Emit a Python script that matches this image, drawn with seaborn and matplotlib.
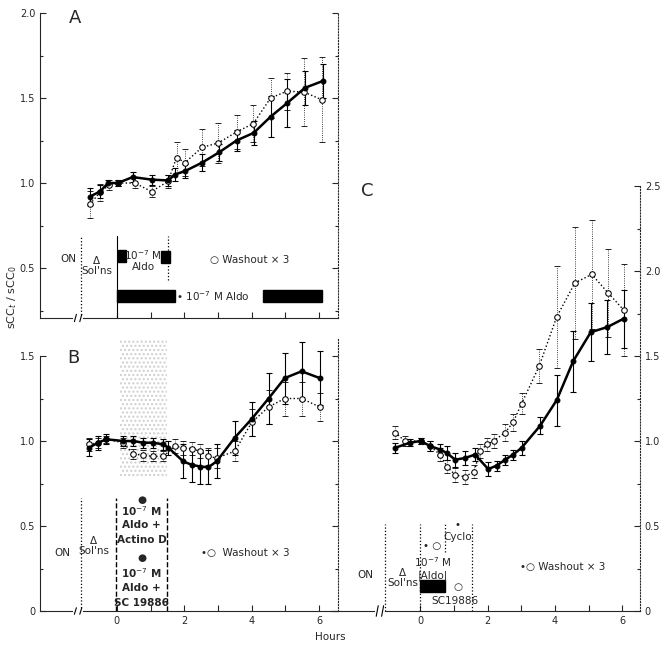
import matplotlib
matplotlib.use('Agg')
import matplotlib.pyplot as plt
from matplotlib.patches import Rectangle
import pandas as pd
import seaborn as sns

sns.set_style('ticks')
plt.rcParams['font.family'] = ['DejaVu Sans']

# ---- Panel A : 10-7 M Aldo continuous (filled) vs washout x3 (open)
a_h_solid = [-0.8, -0.5, -0.26, 0.03, 0.47, 1.03, 1.52, 1.72, 2.02, 2.53, 3.03, 3.55, 4.06, 4.56, 5.05, 5.58, 6.11]
a_solid   = [0.92, 0.95, 1.0, 1.0, 1.035, 1.02, 1.015, 1.05, 1.07, 1.12, 1.18, 1.25, 1.295, 1.39, 1.47, 1.56, 1.6]
a_solid_e = [0.05, 0.04, 0.02, 0.02, 0.03, 0.03, 0.03, 0.04, 0.04, 0.05, 0.05, 0.06, 0.07, 0.12, 0.14, 0.1, 0.1]
a_h_open  = [-0.8, -0.5, -0.22, 0.03, 0.53, 1.03, 1.52, 1.77, 2.02, 2.53, 3.0, 3.55, 4.05, 4.56, 5.05, 5.55, 6.08]
a_open    = [0.875, 0.945, 0.99, 1.0, 1.0, 0.95, 1.01, 1.15, 1.12, 1.21, 1.235, 1.3, 1.35, 1.5, 1.54, 1.535, 1.49]
a_open_e  = [0.08, 0.05, 0.03, 0.02, 0.03, 0.03, 0.04, 0.09, 0.08, 0.11, 0.12, 0.1, 0.11, 0.12, 0.11, 0.2, 0.25]

# ---- Panel B : Aldo + Actino D (open) / Aldo + SC 19886 (filled)
b_h_solid = [-0.83, -0.56, -0.31, 0.19, 0.48, 0.78, 1.08, 1.38, 1.53, 1.97, 2.22, 2.47, 2.71, 2.96, 3.5, 4.0, 4.5, 4.98, 5.48, 6.02]
b_solid   = [0.96, 0.99, 1.01, 1.0, 1.0, 0.99, 0.99, 0.98, 0.96, 0.88, 0.86, 0.85, 0.845, 0.88, 1.02, 1.13, 1.25, 1.37, 1.41, 1.37]
b_solid_e = [0.05, 0.04, 0.03, 0.03, 0.03, 0.03, 0.03, 0.03, 0.04, 0.1, 0.1, 0.1, 0.1, 0.1, 0.1, 0.1, 0.15, 0.15, 0.17, 0.16]
b_h_open  = [-0.83, -0.56, -0.31, 0.19, 0.48, 0.78, 1.08, 1.38, 1.72, 1.97, 2.22, 2.47, 2.71, 2.96, 3.5, 4.0, 4.5, 4.98, 5.48, 6.02]
b_open    = [0.98, 0.99, 1.01, 0.99, 0.925, 0.915, 0.91, 0.91, 0.97, 0.96, 0.955, 0.94, 0.91, 0.9, 0.94, 1.11, 1.2, 1.25, 1.25, 1.2]
b_open_e  = [0.04, 0.03, 0.02, 0.03, 0.03, 0.03, 0.03, 0.03, 0.04, 0.04, 0.04, 0.04, 0.05, 0.06, 0.06, 0.08, 0.1, 0.1, 0.1, 0.08]

# ---- Panel C : Aldo then Cyclo (filled) / SC19886 (open)
c_h_solid = [-0.74, -0.3, 0.02, 0.3, 0.59, 0.79, 1.04, 1.33, 1.63, 2.02, 2.27, 2.52, 2.76, 3.01, 3.56, 4.05, 4.54, 5.06, 5.55, 6.04]
c_solid   = [0.96, 0.99, 1.0, 0.97, 0.95, 0.93, 0.89, 0.9, 0.92, 0.835, 0.855, 0.89, 0.92, 0.96, 1.09, 1.24, 1.47, 1.64, 1.67, 1.72]
c_solid_e = [0.03, 0.02, 0.02, 0.03, 0.03, 0.04, 0.04, 0.04, 0.04, 0.04, 0.03, 0.03, 0.03, 0.04, 0.05, 0.15, 0.18, 0.17, 0.16, 0.17]
c_h_open  = [-0.74, -0.45, 0.02, 0.3, 0.59, 0.8, 1.04, 1.33, 1.6, 1.78, 1.98, 2.18, 2.52, 2.76, 3.01, 3.53, 4.05, 4.59, 5.09, 5.58, 6.04]
c_open    = [1.05, 1.0, 1.0, 0.97, 0.92, 0.85, 0.8, 0.79, 0.82, 0.94, 0.98, 1.0, 1.05, 1.11, 1.22, 1.44, 1.73, 1.93, 1.98, 1.87, 1.77]
c_open_e  = [0.04, 0.03, 0.02, 0.03, 0.04, 0.04, 0.04, 0.04, 0.04, 0.04, 0.04, 0.04, 0.05, 0.05, 0.06, 0.1, 0.3, 0.33, 0.32, 0.26, 0.27]


def draw_pair(ax, hs, vs, es, ho, vo, eo):
    # open series, dotted line + dotted error bars
    eb = ax.errorbar(ho, vo, yerr=eo, fmt='none', ecolor='k', elinewidth=0.6, capsize=2, capthick=0.6)
    eb[2][0].set_linestyle(':')
    df_o = pd.DataFrame({'h': ho, 'v': vo})
    sns.lineplot(data=df_o, x='h', y='v', ax=ax, color='k', lw=1.0, linestyle=':', sort=False,
                 marker='o', markersize=4, markerfacecolor='white', markeredgecolor='k', zorder=3)
    # filled series, heavy line
    ax.errorbar(hs, vs, yerr=es, fmt='none', ecolor='k', elinewidth=0.8, capsize=2, capthick=0.8)
    df_s = pd.DataFrame({'h': hs, 'v': vs})
    sns.lineplot(data=df_s, x='h', y='v', ax=ax, color='k', lw=1.8, sort=False,
                 marker='o', markersize=3.5, markerfacecolor='k', markeredgecolor='k', zorder=4)
    ax.set_xlabel('')
    ax.set_ylabel('')


def axis_break(ax, xb):
    tr = ax.get_xaxis_transform()
    ax.plot([xb - 0.08, xb + 0.08], [0, 0], color='white', lw=3, transform=tr, clip_on=False, zorder=5)
    for dx in (-0.08, 0.08):
        ax.plot([xb + dx - 0.03, xb + dx + 0.03], [-0.012, 0.012], color='k', lw=0.8,
                transform=tr, clip_on=False, zorder=6)


def vline(ax, x, y0, y1, ls=':', lw=0.9):
    ax.plot([x, x], [y0, y1], color='k', ls=ls, lw=lw)


fig = plt.figure(figsize=(6.61, 6.47), dpi=100)
W, H = 661, 647


def px_axes(l, r, t, b):
    return fig.add_axes([l / W, (H - b) / H, (r - l) / W, (b - t) / H])


fs = 7.5
tick_kw = dict(direction='in', length=4, width=0.8, labelsize=7)

# ================= A =================
axA = px_axes(40, 338, 13, 318)
draw_pair(axA, a_h_solid, a_solid, a_solid_e, a_h_open, a_open, a_open_e)
axA.set_xlim(-2.28, 6.56)
axA.set_ylim(0.206, 2.0)
axA.set_yticks([0.5, 1.0, 1.5, 2.0])
axA.set_yticklabels(['0.5', '1.0', '1.5', '2.0'])
axA.set_yticks([0.25, 0.75, 1.25, 1.75], minor=True)
axA.set_xticks(range(0, 7))
axA.set_xticklabels([])
axA.tick_params(which='both', right=True, **tick_kw)
axA.tick_params(which='minor', length=2.5)
axA.spines['top'].set_visible(False)
axA.spines['right'].set_linestyle(':')
axis_break(axA, -1.15)
axA.text(-1.25, 1.97, 'A', fontsize=13, ha='center', va='center')

vline(axA, -1.05, 0.206, 0.69)
vline(axA, 0.0, 0.206, 0.69, ls='-', lw=0.8)
vline(axA, 1.52, 0.43, 0.69)
axA.text(-1.45, 0.555, 'ON', fontsize=fs, ha='center', va='center')
axA.text(-0.6, 0.51, 'Δ\nSol\'ns', fontsize=fs, ha='center', va='center', linespacing=1.0)
axA.add_patch(Rectangle((0.03, 0.535), 0.25, 0.07, color='k'))
axA.add_patch(Rectangle((1.3, 0.53), 0.27, 0.07, color='k'))
axA.text(0.78, 0.545, '10$^{-7}$ M\nAldo', fontsize=fs, ha='center', va='center', linespacing=1.0)
axA.text(2.76, 0.55, '○ Washout × 3', fontsize=fs, ha='left', va='center')
axA.add_patch(Rectangle((0.0, 0.30), 1.72, 0.07, color='k'))
axA.add_patch(Rectangle((4.33, 0.30), 1.75, 0.07, color='k'))
axA.text(1.76, 0.335, '• 10$^{-7}$ M Aldo', fontsize=fs, ha='left', va='center')

# ================= B =================
axB = px_axes(40, 338, 339, 611)
axB.add_patch(Rectangle((0.1, 0.78), 1.4, 0.82, facecolor='none', edgecolor='#cfcfcf',
                        hatch='....', lw=0, zorder=0))
draw_pair(axB, b_h_solid, b_solid, b_solid_e, b_h_open, b_open, b_open_e)
axB.set_xlim(-2.28, 6.56)
axB.set_ylim(0, 1.6)
axB.set_yticks([0, 0.5, 1.0, 1.5])
axB.set_yticklabels(['0', '0.5', '1.0', '1.5'])
axB.set_yticks([0.25, 0.75, 1.25], minor=True)
axB.set_xticks(range(0, 7))
axB.set_xticklabels(['0', '', '2', '', '4', '', '6'])
axB.tick_params(which='both', right=True, **tick_kw)
axB.tick_params(which='minor', length=2.5)
axB.spines['top'].set_visible(False)
axB.spines['left'].set_bounds(0, 1.5)
axB.spines['right'].set_linestyle(':')
axis_break(axB, -1.15)
axB.text(-1.3, 1.49, 'B', fontsize=13, ha='center', va='center')

vline(axB, -1.05, 0, 0.665)
vline(axB, -0.02, 0, 0.665, ls='--', lw=1.0)
vline(axB, 1.48, 0, 0.665, ls='--', lw=1.0)
axB.text(-1.63, 0.34, 'ON', fontsize=fs, ha='center', va='center')
axB.text(-0.68, 0.385, 'Δ\nSol\'ns', fontsize=fs, ha='center', va='center', linespacing=1.0)
box_lines = ['●', '10$^{-7}$ M', 'Aldo +', 'Actino D', '●', '10$^{-7}$ M', 'Aldo +', 'SC 19886']
box_y = [0.655, 0.585, 0.505, 0.42, 0.31, 0.225, 0.135, 0.05]
for s, yy in zip(box_lines, box_y):
    axB.text(0.73, yy, s, fontsize=7.5, fontweight='bold', ha='center', va='center')
axB.text(2.5, 0.34, '•○  Washout × 3', fontsize=fs, ha='left', va='center')

# ================= C =================
axC = px_axes(330, 640, 169, 611)
axC.set_facecolor('none')
draw_pair(axC, c_h_solid, c_solid, c_solid_e, c_h_open, c_open, c_open_e)
axC.set_xlim(-2.67, 6.52)
axC.set_ylim(0, 2.6)
axC.yaxis.tick_right()
axC.set_yticks([0, 0.5, 1.0, 1.5, 2.0, 2.5])
axC.set_yticklabels(['0', '0.5', '1.0', '1.5', '2.0', '2.5'])
axC.set_yticks([0.25, 0.75, 1.25, 1.75, 2.25], minor=True)
axC.set_xticks(range(0, 7))
axC.set_xticklabels(['0', '', '2', '', '4', '', '6'])
axC.tick_params(which='both', left=False, right=True, **tick_kw)
axC.tick_params(which='minor', length=2.5)
axC.spines['top'].set_visible(False)
axC.spines['left'].set_visible(False)
axC.spines['right'].set_linestyle(':')
axC.spines['right'].set_bounds(0, 2.5)
axis_break(axC, -1.19)
axC.text(-1.57, 2.47, 'C', fontsize=13, ha='center', va='center')

vline(axC, -1.04, 0, 0.51)
vline(axC, 0.0, 0, 0.51)
vline(axC, 0.74, 0.35, 0.51)
vline(axC, 1.53, 0, 0.51)
axC.text(-1.63, 0.21, 'ON', fontsize=fs, ha='center', va='center')
axC.text(-0.51, 0.195, 'Δ\nSol\'ns', fontsize=fs, ha='center', va='center', linespacing=1.0)
axC.text(0.36, 0.38, '• ○', fontsize=fs, ha='center', va='center')
axC.text(0.37, 0.29, '10$^{-7}$ M', fontsize=fs, ha='center', va='center')
axC.text(0.37, 0.21, '|Aldo|', fontsize=fs, ha='center', va='center')
axC.add_patch(Rectangle((0.0, 0.11), 0.74, 0.07, color='k'))
axC.text(1.1, 0.505, '•', fontsize=fs, ha='center', va='center')
axC.text(1.12, 0.437, 'Cyclo', fontsize=fs, ha='center', va='center')
axC.text(1.13, 0.14, '○', fontsize=fs, ha='center', va='center')
axC.text(1.04, 0.06, 'SC19886', fontsize=fs, ha='center', va='center')
axC.text(2.96, 0.26, '•○ Washout × 3', fontsize=fs, ha='left', va='center')

fig.text(0.5, 0.008, 'Hours', fontsize=7.5, ha='center', va='bottom')
fig.text(0.018, 0.54, 'sCC$_t$ / sCC$_0$', fontsize=8, rotation=90, ha='center', va='center')

fig.savefig('out.png', dpi=100)
